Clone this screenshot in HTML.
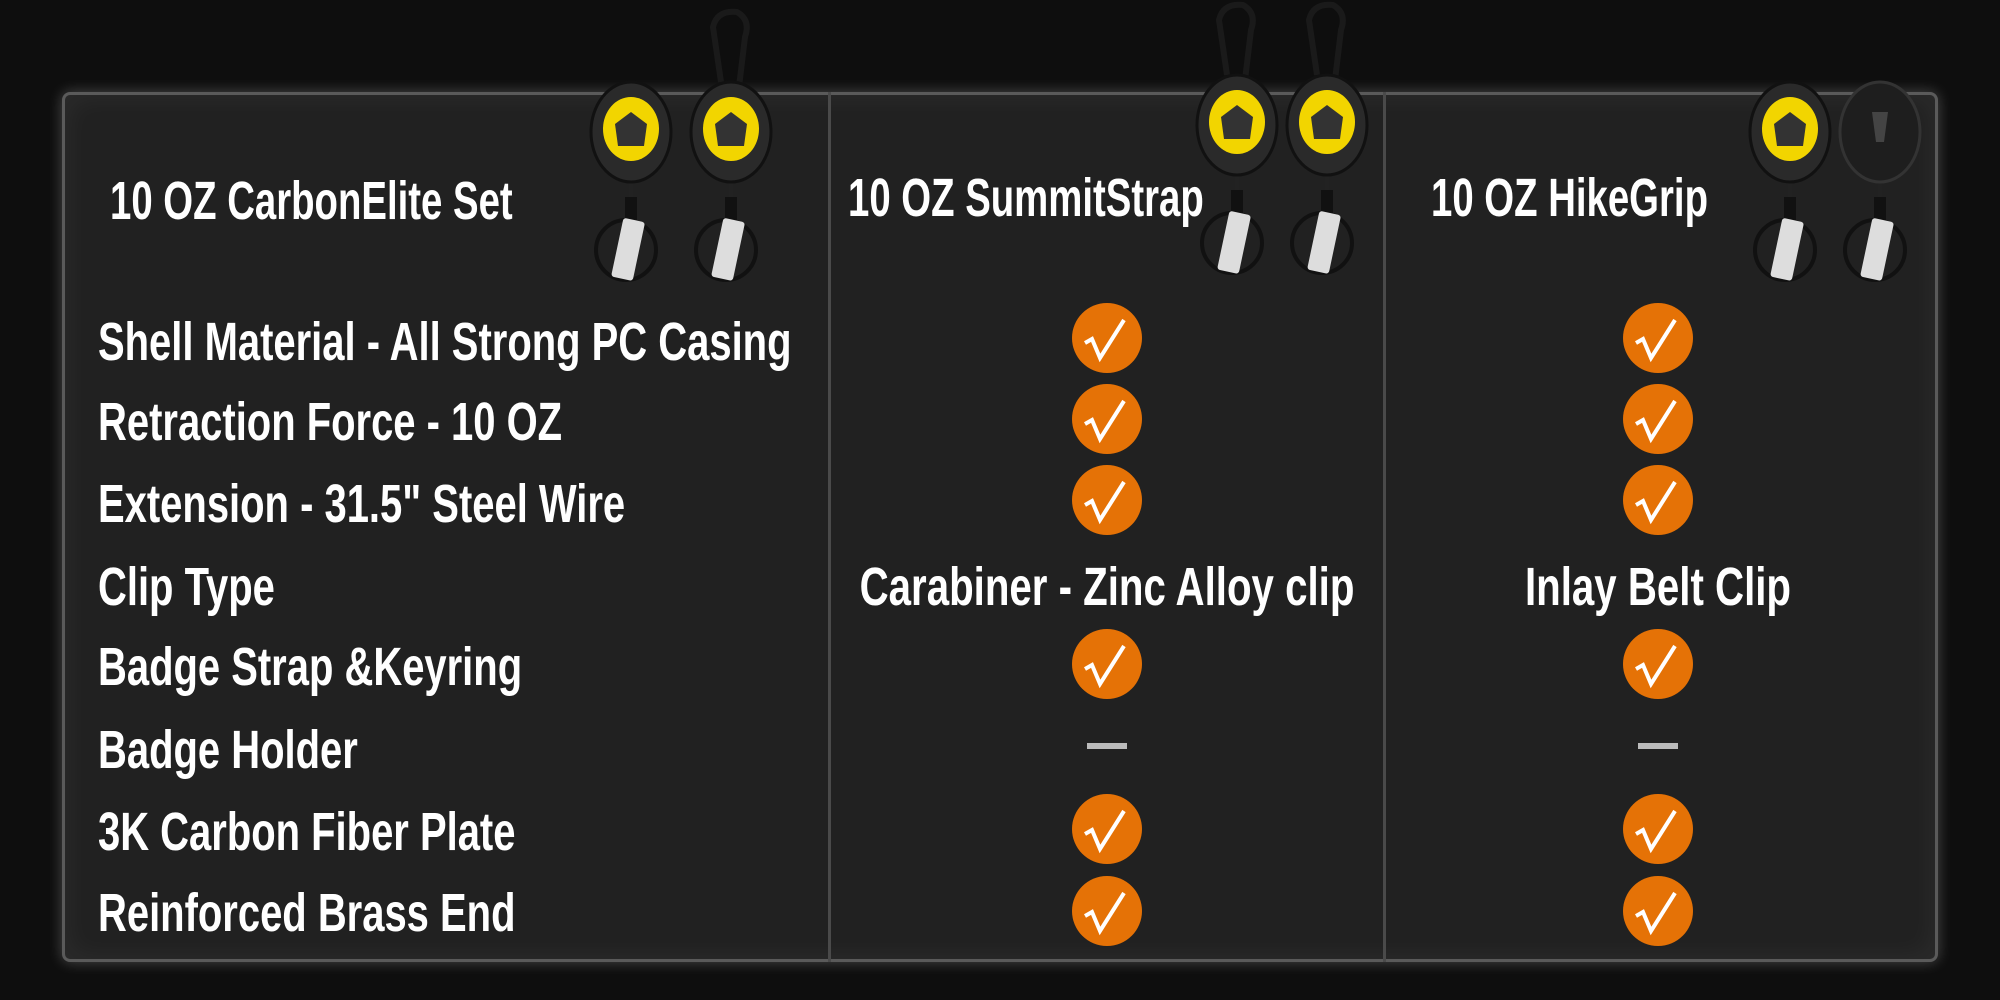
<!DOCTYPE html>
<html><head><meta charset="utf-8"><style>
html,body{margin:0;padding:0}
body{width:2000px;height:1000px;background:#0e0e0e;position:relative;overflow:hidden;font-family:"Liberation Sans Narrow","Liberation Sans",sans-serif;color:#fff}
.panel{position:absolute;left:62px;top:92px;width:1876px;height:870px;background:#212121;border:3px solid #5a5a5a;border-radius:8px;box-shadow:0 0 14px rgba(255,255,255,.25),inset 0 0 30px rgba(255,255,255,.06);box-sizing:border-box}
.div{position:absolute;top:92px;width:3px;height:870px;background:#4a4a4a}
.t{position:absolute;font-weight:bold;font-size:54px;line-height:60px;white-space:nowrap;transform-origin:left center;transform:scaleX(.74)}
.h{transform:scaleX(.71)}
.c{position:absolute;font-weight:bold;font-size:54px;line-height:60px;white-space:nowrap;transform:translateX(-50%) scaleX(.745)}
.chk{position:absolute;width:70px;height:70px;border-radius:50%;background:#e57206;margin:-35px 0 0 -35px}
.chk svg{position:absolute;left:0;top:0}
.dash{position:absolute;width:40px;height:6px;background:#bbb;margin:-3px 0 0 -20px}
</style></head><body>
<div class="panel"></div>
<div class="div" style="left:828px"></div>
<div class="div" style="left:1383px"></div>

<div class="t h" style="left:110px;top:171px">10 OZ CarbonElite Set</div>
<div class="t h" style="left:848px;top:168px">10 OZ SummitStrap</div>
<div class="t h" style="left:1431px;top:168px">10 OZ HikeGrip</div>

<svg width="2000" height="300" style="position:absolute;left:0;top:0">
<defs>
<g id="reel">
<line x1="0" y1="30" x2="0" y2="75" stroke="#222" stroke-width="3"/>
<rect x="-6" y="65" width="12" height="28" fill="#111"/>
<circle cx="-5" cy="118" r="30" fill="none" stroke="#111" stroke-width="4"/>
<rect x="-14" y="88" width="22" height="60" rx="3" fill="#ddd" transform="rotate(12 0 118)"/>
<ellipse cx="0" cy="0" rx="40" ry="50" fill="#2a2a2a" stroke="#111" stroke-width="3"/>
<ellipse cx="0" cy="-3" rx="28" ry="32" fill="#f2d500"/>
<polygon points="0,-20 16,-8 13,14 -13,14 -16,-8" fill="#333"/>
</g>
<g id="carab">
<path d="M-10,-50 L-18,-105 Q-14,-122 6,-120 Q20,-112 14,-95 L8,-45" fill="none" stroke="#1a1a1a" stroke-width="6"/>
</g>
</defs>
<use href="#reel" x="631" y="132"/>
<use href="#carab" x="731" y="132"/>
<use href="#reel" x="731" y="132"/>
<use href="#carab" x="1237" y="125"/>
<use href="#reel" x="1237" y="125"/>
<use href="#carab" x="1327" y="125"/>
<use href="#reel" x="1327" y="125"/>
<use href="#reel" x="1790" y="132"/>
<g transform="translate(1880,132)">
<line x1="0" y1="30" x2="0" y2="75" stroke="#222" stroke-width="3"/>
<rect x="-6" y="65" width="12" height="28" fill="#111"/>
<circle cx="-5" cy="118" r="30" fill="none" stroke="#111" stroke-width="4"/>
<rect x="-14" y="88" width="22" height="60" rx="3" fill="#ddd" transform="rotate(12 0 118)"/>
<ellipse cx="0" cy="0" rx="40" ry="50" fill="#1e1e1e" stroke="#333" stroke-width="3"/>
<path d="M-8,-20 L8,-20 L4,10 L-4,10 Z" fill="#444"/>
</g>
</svg>

<div class="t" style="left:98px;top:312px">Shell Material - All Strong PC Casing</div>
<div class="t" style="left:98px;top:392px">Retraction Force - 10 OZ</div>
<div class="t" style="left:98px;top:474px">Extension - 31.5" Steel Wire</div>
<div class="t" style="left:98px;top:557px">Clip Type</div>
<div class="t" style="left:98px;top:637px">Badge Strap &amp;Keyring</div>
<div class="t" style="left:98px;top:720px">Badge Holder</div>
<div class="t" style="left:98px;top:802px">3K Carbon Fiber Plate</div>
<div class="t" style="left:98px;top:883px">Reinforced Brass End</div>

<div class="c" style="left:1107px;top:557px">Carabiner - Zinc Alloy clip</div>
<div class="c" style="left:1658px;top:557px">Inlay Belt Clip</div>

<div id="checks"></div>
<script>
var ys=[338,419,500,664,829,911],xs=[1107,1658],h='';
var s='<svg width="70" height="70"><path d="M13,40 L20,36 L28,55 L52,17" fill="none" stroke="#fff" stroke-width="4"/></svg>';
xs.forEach(function(x){ys.forEach(function(y){h+='<div class="chk" style="left:'+x+'px;top:'+y+'px">'+s+'</div>';});
h+='<div class="dash" style="left:'+x+'px;top:746px"></div>';});
document.getElementById('checks').innerHTML=h;
</script>
</body></html>
